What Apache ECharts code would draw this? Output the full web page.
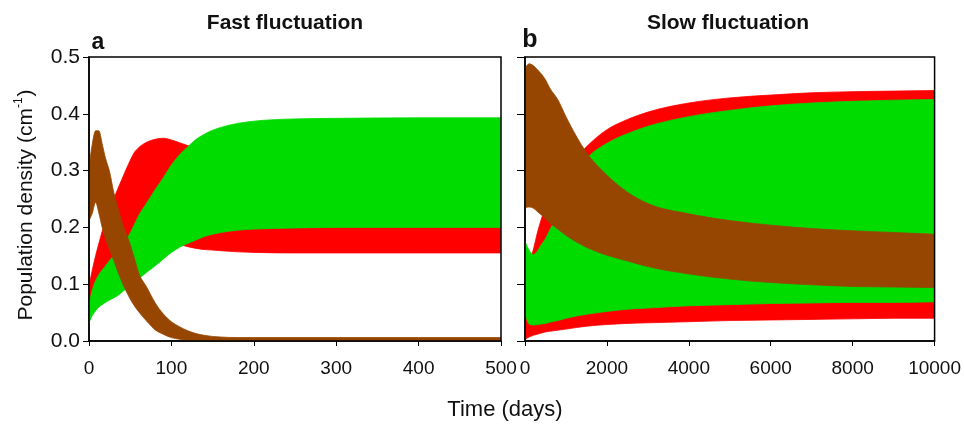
<!DOCTYPE html>
<html>
<head>
<meta charset="utf-8">
<script src="https://cdn.jsdelivr.net/npm/echarts@6/dist/echarts.min.js"></script>
<style>
html,body{margin:0;padding:0;background:#fff;}
#chart{width:964px;height:431px;}
</style>
</head>
<body>
<div id="chart"></div>
<script>
// ---------- Panel a: Fast fluctuation (time in days) ----------
var timeA = [0,4,8,12,16,20,25,30,35,40,45,50,55,60,70,80,90,100,110,120,130,140,150,160,180,200,250,300,400,500];
var redLowA   = [0.050,0.060,0.072,0.085,0.098,0.110,0.122,0.134,0.145,0.152,0.158,0.163,0.168,0.171,0.174,0.176,0.176,0.174,0.170,0.166,0.163,0.161,0.160,0.159,0.157,0.156,0.155,0.155,0.155,0.155];
var redHighA  = [0.097,0.125,0.150,0.172,0.193,0.210,0.230,0.250,0.268,0.285,0.302,0.318,0.332,0.340,0.350,0.355,0.357,0.354,0.349,0.344,0.338,0.330,0.320,0.310,0.300,0.295,0.290,0.290,0.290,0.290];
var greenLowA = [0.032,0.045,0.053,0.060,0.064,0.068,0.072,0.076,0.080,0.086,0.092,0.097,0.103,0.109,0.121,0.132,0.144,0.156,0.165,0.172,0.178,0.184,0.188,0.191,0.195,0.197,0.199,0.200,0.200,0.200];
var greenHighA= [0.065,0.090,0.106,0.117,0.125,0.132,0.142,0.150,0.158,0.167,0.178,0.190,0.205,0.220,0.243,0.266,0.287,0.310,0.328,0.342,0.355,0.364,0.371,0.376,0.383,0.387,0.391,0.392,0.393,0.393];
var brownLowA = [0.212,0.225,0.244,0.225,0.200,0.180,0.160,0.142,0.122,0.104,0.088,0.074,0.062,0.052,0.035,0.020,0.012,0.006,0.003,0.001,0,0,0,0,0,0,0,0,0,0];
var brownHighA= [0.305,0.347,0.370,0.370,0.347,0.322,0.298,0.262,0.235,0.210,0.190,0.170,0.146,0.121,0.095,0.068,0.048,0.034,0.025,0.018,0.013,0.010,0.008,0.007,0.006,0.006,0.006,0.006,0.006,0.006];

// ---------- Panel b: Slow fluctuation ----------
var timeB = [0,100,200,300,400,500,600,800,1000,1500,2000,2500,3000,4000,5000,6000,7000,8000,9000,10000];
var redLowB   = [0.003,0.007,0.010,0.012,0.014,0.016,0.017,0.019,0.021,0.026,0.029,0.031,0.032,0.034,0.036,0.037,0.038,0.039,0.040,0.040];
var redHighB  = [0.120,0.140,0.160,0.190,0.215,0.235,0.255,0.280,0.300,0.342,0.372,0.390,0.403,0.419,0.428,0.433,0.437,0.439,0.440,0.441];
var greenLowB = [0.050,0.030,0.028,0.029,0.030,0.031,0.033,0.036,0.040,0.047,0.052,0.056,0.058,0.062,0.064,0.066,0.067,0.068,0.068,0.069];
var greenHighB= [0.175,0.160,0.152,0.158,0.170,0.180,0.195,0.222,0.257,0.320,0.348,0.365,0.378,0.395,0.406,0.414,0.419,0.422,0.424,0.425];
var brownLowB = [0.235,0.236,0.234,0.228,0.222,0.215,0.208,0.197,0.186,0.165,0.151,0.141,0.131,0.118,0.109,0.103,0.099,0.096,0.095,0.094];
var brownHighB= [0.480,0.488,0.485,0.478,0.470,0.460,0.446,0.425,0.395,0.332,0.292,0.262,0.242,0.224,0.212,0.204,0.198,0.194,0.191,0.188];

var yTicks = [0, 0.1, 0.2, 0.3, 0.4, 0.5];
var panelTitles = ['Fast fluctuation', 'Slow fluctuation'];
var panelLetters = ['a', 'b'];
var xLabel = 'Time (days)';

var RED = '#ff0000', GREEN = '#00dc00', BROWN = '#964600';
var FONT = '"Liberation Sans", Arial, sans-serif';

// Monotone (in x) cubic Bezier segments through pixel points (x increasing).
function monoSegs(p) {
  var n = p.length, m = new Array(n), i;
  if (n < 2) return [];
  if (n === 2) { var s = (p[1][1] - p[0][1]) / (p[1][0] - p[0][0]); m[0] = m[1] = s; }
  else {
    for (i = 1; i < n - 1; i++) {
      var h0 = p[i][0] - p[i - 1][0], h1 = p[i + 1][0] - p[i][0];
      var s0 = (p[i][1] - p[i - 1][1]) / h0, s1 = (p[i + 1][1] - p[i][1]) / h1;
      var pp = (s0 * h1 + s1 * h0) / (h0 + h1);
      m[i] = (Math.sign(s0) + Math.sign(s1)) * Math.min(Math.abs(s0), Math.abs(s1), 0.5 * Math.abs(pp)) || 0;
    }
    var hA = p[1][0] - p[0][0];
    m[0] = (3 * (p[1][1] - p[0][1]) / hA - m[1]) / 2;
    var hB = p[n - 1][0] - p[n - 2][0];
    m[n - 1] = (3 * (p[n - 1][1] - p[n - 2][1]) / hB - m[n - 2]) / 2;
  }
  var segs = [];
  for (i = 0; i < n - 1; i++) {
    var dx = (p[i + 1][0] - p[i][0]) / 3;
    segs.push([p[i], [p[i][0] + dx, p[i][1] + dx * m[i]], [p[i + 1][0] - dx, p[i + 1][1] - dx * m[i + 1]], p[i + 1]]);
  }
  return segs;
}
function f(v) { return v.toFixed(2); }

// One custom series per envelope band; the outline is positioned through the
// axis scales (api.coord) and filled between the upper and the lower edge.
function band(name, grid, xs, lo, hi, color) {
  var rows = xs.map(function (x, i) { return [x, lo[i], hi[i]]; });
  return {
    type: 'custom', name: name, xAxisIndex: grid, yAxisIndex: grid,
    data: rows, encode: { x: 0, y: [1, 2] }, silent: true, animation: false, clip: true,
    renderItem: function (params, api) {
      if (params.dataIndex !== 0) return null;
      var up = rows.map(function (r) { return api.coord([r[0], r[2]]); });
      var dn = rows.map(function (r) { return api.coord([r[0], r[1]]); });
      var su = monoSegs(up), sd = monoSegs(dn);
      var d = 'M' + f(up[0][0]) + ' ' + f(up[0][1]);
      su.forEach(function (s) { d += 'C' + f(s[1][0]) + ' ' + f(s[1][1]) + ' ' + f(s[2][0]) + ' ' + f(s[2][1]) + ' ' + f(s[3][0]) + ' ' + f(s[3][1]); });
      d += 'L' + f(dn[dn.length - 1][0]) + ' ' + f(dn[dn.length - 1][1]);
      for (var k = sd.length - 1; k >= 0; k--) {
        var s = sd[k];
        d += 'C' + f(s[2][0]) + ' ' + f(s[2][1]) + ' ' + f(s[1][0]) + ' ' + f(s[1][1]) + ' ' + f(s[0][0]) + ' ' + f(s[0][1]);
      }
      d += 'Z';
      return { type: 'path', shape: { pathData: d }, style: { fill: color, stroke: color, lineWidth: 0.8 } };
    }
  };
}

var series = [
  band('Red', 0, timeA, redLowA, redHighA, RED),
  band('Green', 0, timeA, greenLowA, greenHighA, GREEN),
  band('Brown', 0, timeA, brownLowA, brownHighA, BROWN),
  band('Red', 1, timeB, redLowB, redHighB, RED),
  band('Green', 1, timeB, greenLowB, greenHighB, GREEN),
  band('Brown', 1, timeB, brownLowB, brownHighB, BROWN)
];

function xAxisCfg(grid, max, interval) {
  return {
    type: 'value', gridIndex: grid, min: 0, max: max, interval: interval,
    axisLine: { show: true, onZero: false, lineStyle: { color: '#000', width: 1.5 } },
    axisTick: { show: true, inside: false, length: 5, lineStyle: { color: '#000', width: 1 } },
    axisLabel: { show: true, margin: 18, color: '#111', fontSize: 19, fontFamily: FONT,
      formatter: function (v) { return String(v); } },
    splitLine: { show: false }
  };
}
function yAxisCfg(grid, showLabels) {
  return {
    type: 'value', gridIndex: grid, min: yTicks[0], max: yTicks[yTicks.length - 1], interval: 0.1,
    axisLine: { show: true, lineStyle: { color: '#000', width: 1.5 } },
    axisTick: { show: true, inside: false, length: showLabels ? 6 : 8, lineStyle: { color: '#000', width: 1 } },
    axisLabel: { show: showLabels, margin: 9, color: '#111', fontSize: 21, fontFamily: FONT,
      formatter: function (v) { return v.toFixed(1); } },
    splitLine: { show: false }
  };
}

var option = {
  backgroundColor: '#fff',
  animation: false,
  grid: [
    { left: 89, right: 463, top: 57, bottom: 90, show: true, borderColor: '#000', borderWidth: 1.5, backgroundColor: 'transparent', z: 3 },
    { left: 525, right: 29, top: 57, bottom: 90, show: true, borderColor: '#000', borderWidth: 1.5, backgroundColor: 'transparent', z: 3 }
  ],
  xAxis: [xAxisCfg(0, 500, 100), xAxisCfg(1, 10000, 2000)],
  yAxis: [yAxisCfg(0, true), yAxisCfg(1, false)],
  series: series,
  graphic: [
    { type: 'text', x: 285, y: 23, style: { text: panelTitles[0], fontSize: 21, fontWeight: 'bold', fontFamily: FONT, fill: '#111', align: 'center', verticalAlign: 'middle' } },
    { type: 'text', x: 728, y: 23, style: { text: panelTitles[1], fontSize: 21, fontWeight: 'bold', fontFamily: FONT, fill: '#111', align: 'center', verticalAlign: 'middle' } },
    { type: 'text', x: 98, y: 43, style: { text: panelLetters[0], fontSize: 23, fontWeight: 'bold', fontFamily: FONT, fill: '#111', align: 'center', verticalAlign: 'middle' } },
    { type: 'text', x: 530, y: 40, style: { text: panelLetters[1], fontSize: 25, fontWeight: 'bold', fontFamily: FONT, fill: '#111', align: 'center', verticalAlign: 'middle' } },
    { type: 'text', x: 505, y: 410, style: { text: xLabel, fontSize: 22, fontFamily: FONT, fill: '#111', align: 'center', verticalAlign: 'middle' } },
    { type: 'text', x: 26, y: 205, rotation: Math.PI / 2,
      style: { text: '{a|Population density (cm}{s|-1}{a|)}', align: 'center', verticalAlign: 'middle', fill: '#111',
        rich: {
          a: { fontSize: 21, fontFamily: FONT, fill: '#111', lineHeight: 26 },
          s: { fontSize: 12, fontFamily: FONT, fill: '#111', verticalAlign: 'top', lineHeight: 26, padding: [0, 1, 0, 0] }
        } } }
  ]
};

var chart = echarts.init(document.getElementById('chart'), null, { renderer: 'canvas' });
chart.setOption(option);
</script>
</body>
</html>
